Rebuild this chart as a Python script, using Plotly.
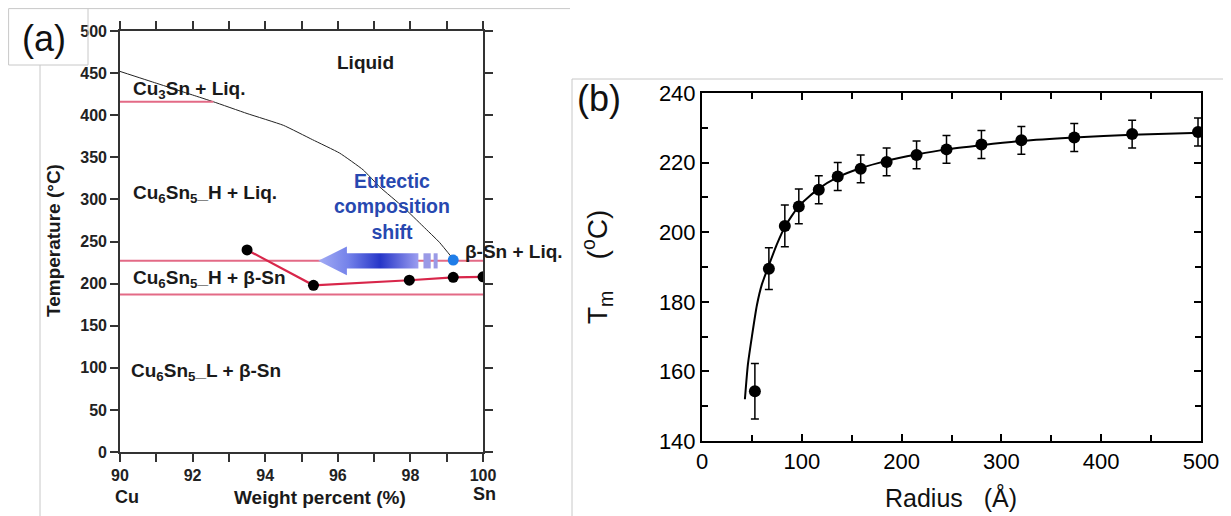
import plotly.graph_objects as go

W, H = 1231, 516
OFF = 8  # page body margin offset (px)

# ---------------- Panel (a) data ----------------
liq_x = [90.0, 91.0, 92.0, 92.57, 93.5, 94.5, 95.3, 96.05, 96.7, 97.15, 97.8, 98.35, 98.8, 99.18]
liq_y = [452, 438, 424, 416, 402, 388, 371, 355, 335, 315, 291, 268, 249, 229]

iso_temps = [416, 227, 187]
iso_x_start = [90.0, 90.0, 90.0]
iso_x_end = [92.57, 100.0, 100.0]

shift_x = [93.5, 95.33, 97.97, 99.18, 100.0]
shift_y = [240, 198, 204, 207.5, 208]

eutectic_x = [99.18]
eutectic_y = [228]

a_xticks = [90, 91, 92, 93, 94, 95, 96, 97, 98, 99, 100]
a_xticktext = ["90", "", "92", "", "94", "", "96", "", "98", "", "100"]
a_yticks = [0, 50, 100, 150, 200, 250, 300, 350, 400, 450, 500]

# arrow ("Eutectic composition shift") geometry, data units
arrow_x = [95.46, 96.25, 96.25, 98.22, 98.22, 96.25, 96.25, 95.46]
arrow_y = [227, 244, 236, 236, 218, 218, 210, 227]
stripe1_x = [98.36, 98.56, 98.56, 98.36, 98.36]
stripe2_x = [98.64, 98.75, 98.75, 98.64, 98.64]
stripe_y = [236, 236, 218, 218, 236]

# ---------------- Panel (b) data ----------------
radius = [53, 67, 83, 97, 117, 136, 159, 185, 215, 245, 280, 320, 373, 431, 497]
tm = [154.3, 189.5, 201.8, 207.4, 212.2, 216.0, 218.2, 220.2, 222.2, 223.8, 225.2, 226.4, 227.2, 228.2, 228.8]
tm_err = [8, 6, 6, 5, 4, 4, 4, 4, 4, 4, 4, 4, 4, 4, 4]

fit_r = [43, 46, 50, 55, 60, 67, 75, 83, 97, 116, 136, 158, 185, 215, 245, 280, 320, 373, 431, 500]
fit_tm = [152, 162, 170, 179, 185, 190.5, 196.5, 201.5, 207.5, 212.3, 215.8, 218.3, 220.5, 222.3, 223.8, 225.0, 226.2, 227.2, 228.0, 228.6]


def fx(px):
    return (px - OFF) / W


def fy(py):
    return 1 - (py - OFF) / H


fig = go.Figure()

fig.add_trace(go.Scatter(x=liq_x, y=liq_y, mode="lines",
                         line=dict(color="#222222", width=1, shape="spline", smoothing=0.4),
                         xaxis="x", yaxis="y", showlegend=False, hoverinfo="skip"))
for t, xs, xe in zip(iso_temps, iso_x_start, iso_x_end):
    fig.add_trace(go.Scatter(x=[xs, xe], y=[t, t], mode="lines",
                             line=dict(color="#e36a86", width=2), xaxis="x", yaxis="y",
                             showlegend=False, hoverinfo="skip"))
fig.add_trace(go.Scatter(x=arrow_x, y=arrow_y, mode="lines", fill="toself",
                         line=dict(width=0, color="rgba(0,0,0,0)"),
                         fillgradient=dict(type="horizontal",
                                           colorscale=[[0, "#a3acf4"], [0.3, "#7482ea"],
                                                       [0.62, "#2636c8"], [1, "#9c9ef0"]]),
                         xaxis="x", yaxis="y", showlegend=False, hoverinfo="skip"))
for sx in (stripe1_x, stripe2_x):
    fig.add_trace(go.Scatter(x=sx, y=stripe_y, mode="lines", fill="toself",
                             fillcolor="#9a9ae6", line=dict(width=0, color="rgba(0,0,0,0)"),
                             xaxis="x", yaxis="y", showlegend=False, hoverinfo="skip"))
fig.add_trace(go.Scatter(x=shift_x, y=shift_y, mode="lines+markers",
                         line=dict(color="#d8264a", width=2.2),
                         marker=dict(color="black", size=11),
                         xaxis="x", yaxis="y", showlegend=False, hoverinfo="skip"))
fig.add_trace(go.Scatter(x=eutectic_x, y=eutectic_y, mode="markers",
                         marker=dict(color="#1f7de8", size=11),
                         xaxis="x", yaxis="y", showlegend=False, hoverinfo="skip"))

fig.add_trace(go.Scatter(x=fit_r, y=fit_tm, mode="lines",
                         line=dict(color="black", width=2, shape="spline", smoothing=0.6),
                         xaxis="x2", yaxis="y2", showlegend=False, hoverinfo="skip"))
fig.add_trace(go.Scatter(x=radius, y=tm, mode="markers",
                         marker=dict(color="black", size=12),
                         error_y=dict(type="data", array=tm_err, color="black", thickness=1.5, width=4),
                         xaxis="x2", yaxis="y2", showlegend=False, hoverinfo="skip"))

boldfont = dict(family="Liberation Sans, Arial", size=16, color="#222222", weight="bold")
axa = dict(showline=True, linecolor="#333333", linewidth=1.6, mirror="allticks",
           ticks="outside", ticklen=8, tickwidth=1.5, tickcolor="#333333",
           showgrid=False, zeroline=False, tickfont=boldfont, automargin=False)
axb = dict(showline=True, linecolor="black", linewidth=2, mirror="allticks",
           ticks="inside", ticklen=7, tickwidth=1.5, tickcolor="black",
           showgrid=False, zeroline=False, automargin=False,
           tickfont=dict(family="Liberation Sans, Arial", size=22, color="black"))

fig.update_layout(
    width=W, height=H, autosize=False, margin=dict(l=0, r=0, t=0, b=0, pad=0),
    paper_bgcolor="white", plot_bgcolor="white", showlegend=False,
    xaxis=dict(axa, domain=[fx(120), fx(483)], range=[90, 100], tickmode="array",
               tickvals=a_xticks, ticktext=a_xticktext, anchor="y"),
    yaxis=dict(axa, domain=[fy(452), fy(31)], range=[0, 500], tickmode="array",
               tickvals=a_yticks, anchor="x"),
    xaxis2=dict(axb, domain=[fx(702), fx(1201)], range=[0, 500], dtick=100, tick0=0,
                minor=dict(dtick=50, ticks="inside", ticklen=6, tickwidth=1.5, tickcolor="black"),
                anchor="y2"),
    yaxis2=dict(axb, domain=[fy(441), fy(93)], range=[140, 240], dtick=20, tick0=140,
                minor=dict(dtick=10, ticks="inside", ticklen=6, tickwidth=1.5, tickcolor="black"),
                anchor="x2"),
)

lab = dict(family="Liberation Sans, Arial", size=19, color="#1a1a1a", weight="bold")
ann = []


def da(text, x, y, xanchor="left", font=lab):
    ann.append(dict(text=text, x=x, y=y, xref="x", yref="y", xanchor=xanchor,
                    yanchor="middle", showarrow=False, font=font))


da("Liquid", 96.75, 462, "center")
da("Cu<sub>3</sub>Sn + Liq.", 90.3, 430)
da("Cu<sub>6</sub>Sn<sub>5</sub>_H + Liq.", 90.3, 306)
da("Cu<sub>6</sub>Sn<sub>5</sub>_H + β-Sn", 90.3, 205)
da("Cu<sub>6</sub>Sn<sub>5</sub>_L + β-Sn", 90.25, 95)
da("β-Sn + Liq.", 99.45, 238)
da("Eutectic<br>composition<br>shift", 97.48, 291, "center",
   dict(family="Liberation Sans, Arial", size=19.5, color="#2748b0", weight="bold"))


def pa(text, px, py, size, angle=0, weight="normal", color="#111111"):
    ann.append(dict(text=text, x=fx(px), y=fy(py), xref="paper", yref="paper",
                    xanchor="center", yanchor="middle", showarrow=False, textangle=angle,
                    font=dict(family="Liberation Sans, Arial", size=size, color=color, weight=weight)))


pa("(a)", 44, 39, 36)
pa("(b)", 599, 99, 36)
pa("Cu", 127, 497, 18, weight="bold", color="#1a1a1a")
pa("Sn", 484, 494, 18, weight="bold", color="#1a1a1a")
pa("Weight percent (%)", 320, 497, 19, weight="bold", color="#1a1a1a")
pa("Temperature (°C)", 53, 241, 19, angle=-90, weight="bold", color="#1a1a1a")
pa("Radius&nbsp;&nbsp;&nbsp;(Å)", 951, 497, 25)
pa("T<sub>m</sub>&nbsp;&nbsp;&nbsp;&nbsp;(<sup>o</sup>C)", 597, 267, 28, angle=-90)
fig.update_layout(annotations=ann)

g = "#c8c8c8"


def pl(x0, y0, x1, y1):
    return dict(type="line", xref="paper", yref="paper", x0=fx(x0), y0=fy(y0),
                x1=fx(x1), y1=fy(y1), line=dict(color=g, width=1))


fig.update_layout(shapes=[
    dict(type="rect", xref="paper", yref="paper", x0=fx(8.6), x1=fx(88), y0=fy(65), y1=fy(8.6),
         line=dict(color=g, width=1)),
    pl(40, 65, 40, 524),
    pl(88, 8.6, 570, 8.6),
    pl(572, 79, 572, 524),
    pl(572, 79, 1239, 79),
])

fig.write_html("out.html")
